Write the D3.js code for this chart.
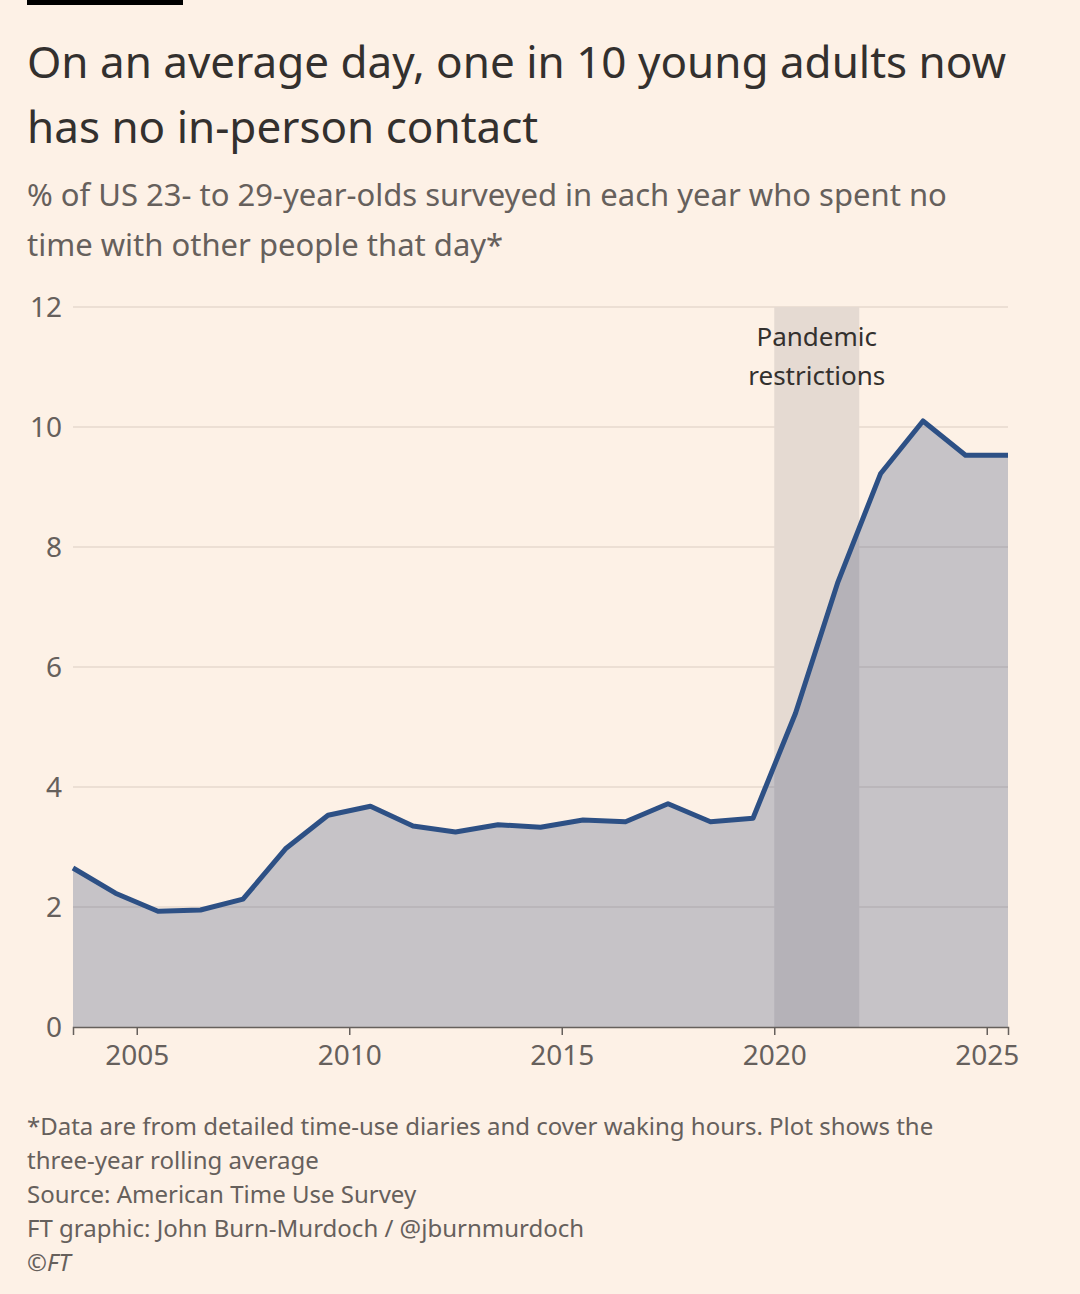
<!DOCTYPE html>
<html><head><meta charset="utf-8">
<script src="https://cdn.jsdelivr.net/npm/d3@7"></script>
<style>
body{margin:0;background:#fdf1e6;font-family:"Noto Sans","Open Sans",sans-serif;}
</style></head>
<body><svg id="chart"></svg>
<script>
const years = [2003.5,2004.5,2005.5,2006.5,2007.5,2008.5,2009.5,2010.5,2011.5,2012.5,2013.5,2014.5,2015.5,2016.5,2017.5,2018.5,2019.5,2020.5,2021.5,2022.5,2023.5,2024.5,2025.5];
const values = [2.65,2.23,1.93,1.95,2.13,2.97,3.53,3.68,3.35,3.25,3.37,3.33,3.45,3.42,3.72,3.42,3.48,5.23,7.42,9.22,10.1,9.53,9.53];
const xTicks = [2005,2010,2015,2020,2025];
const yTicks = [0,2,4,6,8,10,12];
const pandemic = [2020,2022];

const width = 1080, height = 1294;
const svg = d3.select('#chart').attr('width', width).attr('height', height);

svg.append('rect').attr('x', 27).attr('y', 0).attr('width', 156).attr('height', 5).attr('fill', '#000');

const title = ['On an average day, one in 10 young adults now', 'has no in-person contact'];
title.forEach((t, i) => svg.append('text').attr('x', 27).attr('y', 78 + i * 65)
  .attr('font-size', 44).attr('fill', '#33302e').text(t));
const sub = ['% of US 23- to 29-year-olds surveyed in each year who spent no', 'time with other people that day*'];
sub.forEach((t, i) => svg.append('text').attr('x', 27).attr('y', 206 + i * 50)
  .attr('font-size', 31).attr('fill', '#66605c').text(t));

const x = d3.scaleLinear().domain([2003.5, 2025.5]).range([73, 1008]);
const y = d3.scaleLinear().domain([0, 12]).range([1027, 307]);

// gridlines
svg.append('g').selectAll('line').data(yTicks.filter(d => d > 0)).enter().append('line')
  .attr('x1', 73).attr('x2', 1008).attr('y1', d => y(d)).attr('y2', d => y(d))
  .attr('stroke', '#e6d9ce').attr('stroke-width', 1.5);
svg.append('g').selectAll('text').data(yTicks).enter().append('text')
  .attr('x', 62).attr('y', d => y(d) + 10).attr('text-anchor', 'end')
  .attr('font-size', 28).attr('fill', '#66605c').text(d => d);

// pandemic band
svg.append('rect').attr('x', x(pandemic[0])).attr('width', x(pandemic[1]) - x(pandemic[0]))
  .attr('y', y(12)).attr('height', y(0) - y(12)).attr('fill', '#e5dad2');
svg.append('text').attr('x', (x(pandemic[0]) + x(pandemic[1])) / 2).attr('y', 346)
  .attr('text-anchor', 'middle').attr('font-size', 26).attr('fill', '#33302e').text('Pandemic');
svg.append('text').attr('x', (x(pandemic[0]) + x(pandemic[1])) / 2).attr('y', 385)
  .attr('text-anchor', 'middle').attr('font-size', 26).attr('fill', '#33302e').text('restrictions');

const pts = years.map((yr, i) => [yr, values[i]]);
svg.append('path').datum(pts)
  .attr('d', d3.area().x(d => x(d[0])).y0(y(0)).y1(d => y(d[1])))
  .attr('fill', '#3a4a78').attr('fill-opacity', 0.28);
svg.append('path').datum(pts)
  .attr('d', d3.line().x(d => x(d[0])).y(d => y(d[1])))
  .attr('fill', 'none').attr('stroke', '#2d5085').attr('stroke-width', 5).attr('stroke-linejoin', 'round');

// x axis
const xAxis = svg.append('g').attr('transform', `translate(0,${y(0)})`)
  .call(d3.axisBottom(x).tickValues(xTicks).tickFormat(d3.format('d')).tickSize(8).tickPadding(10));
xAxis.select('.domain').attr('stroke', '#66605c').attr('stroke-width', 1.5);
xAxis.selectAll('line').attr('stroke', '#66605c').attr('stroke-width', 1.5);
xAxis.selectAll('text').attr('font-size', 28).attr('fill', '#66605c').attr('font-family', '"Noto Sans",sans-serif');

const notes = ['*Data are from detailed time-use diaries and cover waking hours. Plot shows the',
  'three-year rolling average', 'Source: American Time Use Survey',
  'FT graphic: John Burn-Murdoch / @jburnmurdoch', '©FT'];
notes.forEach((t, i) => svg.append('text').attr('x', 27).attr('y', 1135 + i * 34)
  .attr('font-size', 24).attr('fill', '#66605c').attr('font-style', i === 4 ? 'italic' : null).text(t));
</script></body></html>
